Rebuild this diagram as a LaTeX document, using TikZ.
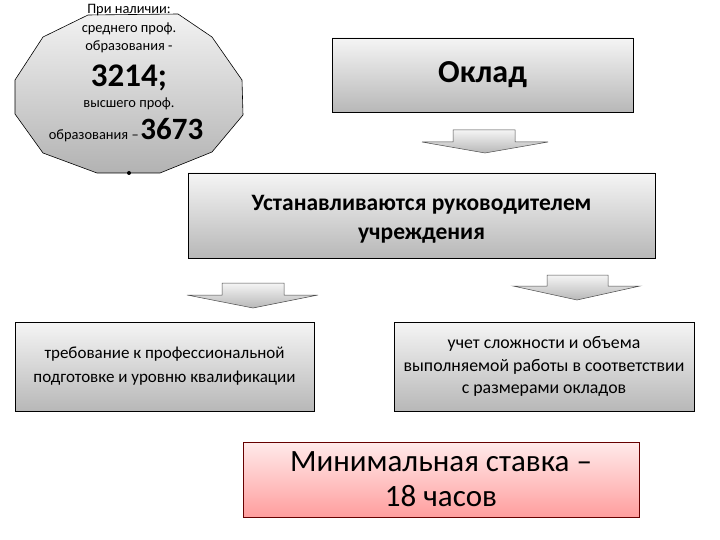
\documentclass[tikz,border=0pt]{standalone}
\usepackage{fontspec}
\setmainfont{Carlito}
\begin{document}
\begin{tikzpicture}[x=1pt,y=-1pt,
  graybox/.style={draw=black, line width=0.7pt, top color=white!96!black, bottom color=white!72!black, inner sep=0pt, align=center},
  pinkbox/.style={draw=red!40!black, line width=0.5pt, top color=red!8, bottom color=red!38, inner sep=0pt, align=center},
  blockarrow/.style={draw=black!70, line width=0.5pt, top color=white!96!black, bottom color=white!72!black},
  smalltxt/.style={font=\fontsize{14.4}{14.4}\selectfont, inner sep=0pt, anchor=base}]
\useasboundingbox (0,0) rectangle (720,540);

% badge
\path[draw=black, line width=0.6pt, top color=white!95!black, bottom color=white!70!black]
  (88,15) -- (178,14) -- (212,37) -- (242,80) -- (243,115) -- (212,152) -- (160,173)
  -- (97,173) -- (43,153) -- (15,114) -- (15,80) -- (43,37) -- cycle;
\node[smalltxt] (b1) at (129,14) {При наличии:};
\node[smalltxt] (b2) at (129,33) {среднего проф.};
\node[smalltxt] (b3) at (129,51) {образования -};
\node[inner sep=0pt, anchor=base, font=\fontsize{33}{33}\selectfont\bfseries] (b4) at (129,87) {3214;};
\node[smalltxt] (b5) at (129,108) {высшего проф.};
\node[inner sep=0pt, anchor=base] (b6) at (126,140) {{\fontsize{14.4}{14.4}\selectfont образования –}\,{\fontsize{31}{31}\selectfont\bfseries 3673}};
\node[circle, fill=black, inner sep=0pt, minimum size=4pt] (dot) at (129,173) {};

% boxes
\node[graybox, minimum width=301pt, minimum height=74pt, font=\fontsize{32}{32}\selectfont\bfseries] (oklad) at (482.5,75) {Оклад};
\node[graybox, minimum width=467pt, minimum height=85pt] (mid) at (421.5,215.5) {};
\node[inner sep=0pt, align=center, font=\fontsize{23.5}{29}\selectfont\bfseries, yshift=-3.5pt] (midtxt) at (mid.center) {Устанавливаются руководителем\\учреждения};
\node[graybox, minimum width=299pt, minimum height=89pt, font=\fontsize{17}{24}\selectfont] (left) at (164.5,366.5) {требование к профессиональной\\подготовке и уровню квалификации};
\node[graybox, minimum width=300pt, minimum height=89pt, font=\fontsize{17.8}{22.5}\selectfont] (right) at (544,366.5) {учет сложности и объема\\выполняемой работы в соответствии\\с размерами окладов};
\node[pinkbox, minimum width=396pt, minimum height=75pt, font=\fontsize{31}{35}\selectfont] (pink) at (441,479.5) {Минимальная ставка –\\18 часов};

% block arrows
\path[blockarrow] (453,130) -- (515,130) -- (515,142) -- (548,142) -- (485,153) -- (422,142) -- (453,142) -- cycle;
\path[blockarrow] (222,283) -- (284,283) -- (284,295) -- (318,295) -- (253,308) -- (187,295) -- (222,295) -- cycle;
\path[blockarrow] (547,275) -- (608,275) -- (608,286) -- (640,286) -- (577,300) -- (513,286) -- (547,286) -- cycle;
\end{tikzpicture}
\end{document}
